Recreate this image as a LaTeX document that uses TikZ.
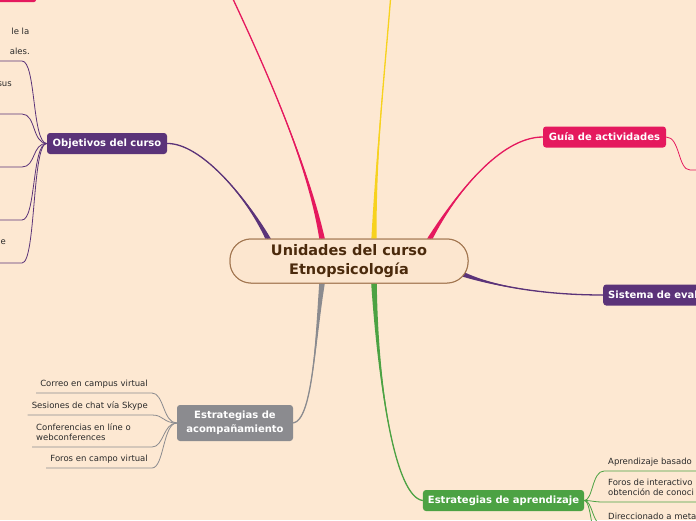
\documentclass[tikz,border=0pt]{standalone}
\usepackage{fontspec}
\setmainfont{DejaVu Sans}
\usetikzlibrary{calc, positioning}

\definecolor{paper}{HTML}{FDE8D2}
\definecolor{hubfill}{HTML}{FCE6CF}
\definecolor{hubline}{HTML}{A27650}
\definecolor{hubtext}{HTML}{4B2A0C}
\definecolor{plum}{HTML}{5B3379}
\definecolor{rose}{HTML}{E5195E}
\definecolor{sun}{HTML}{F7D21E}
\definecolor{leafgreen}{HTML}{4CA243}
\definecolor{stone}{HTML}{8B8B8F}
\definecolor{leaftext}{HTML}{2A2A2A}

\tikzset{
  hub/.style={draw=hubline, fill=hubfill, line width=1pt, rounded corners=21pt,
    minimum width=238pt, minimum height=44pt, align=center,
    font=\fontsize{14.5}{19}\selectfont\bfseries, text=hubtext}
}
\tikzset{
  topic/.style={rounded corners=3pt, text=white, align=center, inner xsep=5pt,
    inner ysep=0pt, minimum height=21pt, font=\fontsize{10}{14}\selectfont\bfseries}
}
\tikzset{
  leaf/.style={font=\fontsize{8.5}{10}\selectfont, text=leaftext, align=left,
    inner xsep=4pt, inner ysep=4pt, text depth=2pt}
}

% tapered main branch: colour, start, half width, control 1, control 2, end
\newcommand{\branch}[6]{%
  \fill[#1] ($(#2)+(#3)$) .. controls #4 and #5 .. (#6) .. controls #5 and #4 .. ($(#2)-(#3)$) -- cycle;
  \draw[#1, line width=1.3pt] (#2) .. controls #4 and #5 .. (#6);
}

\begin{document}
\begin{tikzpicture}[x=1pt, y=-1pt]
  \fill[paper] (0,0) rectangle (696,520);
  \useasboundingbox (0,0) rectangle (696,520);
  \clip (0,0) rectangle (696,520);

  % main topics
  \node[hub] (hub) at (349,261) {Unidades del curso\\Etnopsicología};
  \node[topic, fill=plum, minimum width=120pt] (obj) at (107,143.5) {Objetivos del curso};
  \node[topic, fill=rose, minimum width=123pt] (guia) at (604.5,137) {Guía de actividades};
  \node[topic, fill=plum, anchor=west] (sist) at (603,295) {Sistema de eval};
  \node[topic, fill=stone, minimum width=116pt, minimum height=36pt] (acomp) at (235,423)
    {Estrategias de\\acompañamiento};
  \node[topic, fill=leafgreen, minimum width=155pt] (aprend) at (503.5,500.5) {Estrategias de aprendizaje};

  % topics cut off by the frame
  \fill[rose, rounded corners=2pt] (-10,-20) rectangle (36,2);
  \coordinate (upA) at (224,-20);
  \coordinate (upB) at (392,-20);

  % branch roots on the hub
  \coordinate (r1) at ($(hub.north)+(-81,0)$);
  \coordinate (r2) at ($(hub.north)+(-27,0)$);
  \coordinate (r3) at ($(hub.north)+(25,0)$);
  \coordinate (r4) at ($(hub.north)+(81,0)$);
  \coordinate (r5) at ($(hub.east)+(-6,13)$);
  \coordinate (r6) at ($(hub.south)+(-27,0)$);
  \coordinate (r7) at ($(hub.south)+(25,0)$);

  \branch{plum}{r1}{2.8,0}{(245,195)}{(200,143)}{obj.east}
  \branch{rose}{r2}{2.8,0}{(307,160)}{(262,60)}{upA}
  \branch{sun}{r3}{2.6,0}{(376,150)}{(386,60)}{upB}
  \branch{rose}{r4}{2.8,0}{(455,195)}{(500,137)}{guia.west}
  \branch{plum}{r5}{0,2.6}{(490,285)}{(540,295)}{sist.west}
  \branch{stone}{r6}{2.8,0}{(315,345)}{(312,420)}{acomp.east}
  \branch{leafgreen}{r7}{2.8,0}{(378,385)}{(395,497)}{aprend.west}

  \node[hub] at (hub) {Unidades del curso\\Etnopsicología};

  % Objetivos del curso (cut at the left edge)
  \node[leaf, anchor=east] (o1) at (33.5,32) {le la};
  \node[leaf, anchor=east] (o1b) at (34,52) {ales.};
  \node[leaf, anchor=east] (o2) at (16,85) {sus};
  \node[leaf, anchor=east] (o3) at (4.5,137) {s};
  \node[leaf, anchor=east] (o5) at (10,243) {e};
  \foreach \y [count=\i] in {61,114,167,220,263}
    \coordinate (ol\i) at (22,\y);
  \foreach \i in {1,...,5}
    \draw[plum, line width=0.8pt] (obj.west) .. controls (32,143) and (36,0 |- ol\i) .. (ol\i) -- ++(-30,0);

  % Guia de actividades
  \coordinate (gl1) at (690,170);
  \draw[rose, line width=0.8pt] (guia.east) .. controls (680,137) and (678,170) .. (gl1) -- ++(20,0);

  % Estrategias de acompanamiento
  \node[leaf, anchor=south east] (a1) at (152,393) {Correo en campus virtual};
  \node[leaf, anchor=south east] (a2) at (152,415) {Sesiones de chat vía Skype};
  \node[leaf, anchor=south west] (a3) at (32,447) {Conferencias en líne o\\webconferences};
  \node[leaf, anchor=south east] (a4) at (152,468) {Foros en campo virtual};
  \foreach \n in {a1,a2,a4}
    \draw[stone, line width=0.8pt] (\n.south west) -- (\n.south east)
      .. controls ($(\n.south east)+(12,0)$) and (163,423) .. (acomp.west);
  \draw[stone, line width=0.8pt] (a3.south west) -- (152,447)
    .. controls (164,447) and (163,423) .. (acomp.west);

  % Estrategias de aprendizaje (cut at the right edge)
  \node[leaf, anchor=south west] (e1) at (604,471) {Aprendizaje basado};
  \node[leaf, anchor=south west] (e2) at (604,502) {Foros de interactivo\\obtención de conoci};
  \node[leaf, anchor=south west] (e3) at (604,526) {Direccionado a meta};
  \coordinate (e4) at (604,560);
  \foreach \n in {e1,e2,e3}
    \draw[leafgreen, line width=0.8pt] (aprend.east) .. controls (593,500.5) and ($(\n.south west)+(-12,0)$)
      .. (\n.south west) -- ++(120,0);
  \draw[leafgreen, line width=0.8pt] (aprend.east) .. controls (593,500.5) and (592,560) .. (e4) -- ++(120,0);
\end{tikzpicture}
\end{document}
